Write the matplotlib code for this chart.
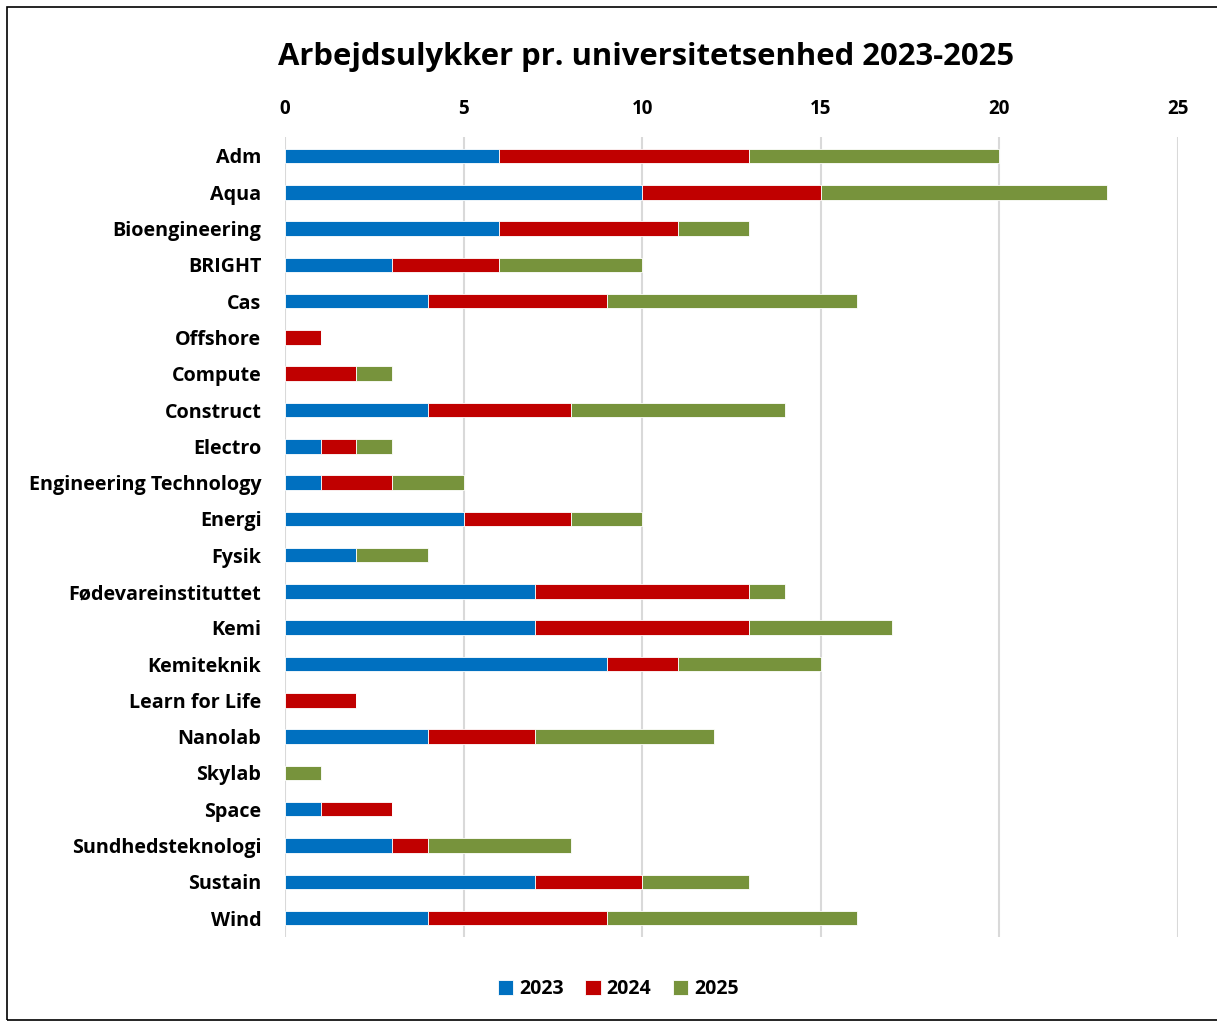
import matplotlib.pyplot as plt
import numpy as np
from matplotlib.patches import Rectangle

categories = ["Adm", "Aqua", "Bioengineering", "BRIGHT", "Cas", "Offshore", "Compute",
              "Construct", "Electro", "Engineering Technology", "Energi", "Fysik",
              "Fødevareinstituttet", "Kemi", "Kemiteknik", "Learn for Life", "Nanolab",
              "Skylab", "Space", "Sundhedsteknologi", "Sustain", "Wind"]
y2023 = [6, 10, 6, 3, 4, 0, 0, 4, 1, 1, 5, 2, 7, 7, 9, 0, 4, 0, 1, 3, 7, 4]
y2024 = [7, 5, 5, 3, 5, 1, 2, 4, 1, 2, 3, 0, 6, 6, 2, 2, 3, 0, 2, 1, 3, 5]
y2025 = [7, 8, 2, 4, 7, 0, 1, 6, 1, 2, 2, 2, 1, 4, 4, 0, 5, 1, 0, 4, 3, 7]
series = ["2023", "2024", "2025"]
colors = ["#0070C0", "#C00000", "#77933C"]
xticks = [0, 5, 10, 15, 20, 25]

plt.rcParams['font.family'] = ['Open Sans', 'DejaVu Sans']

fig = plt.figure(figsize=(12.17, 10.23), dpi=100)
ax = fig.add_axes([0.2342, 0.0841, 0.7338, 0.7819])

pos = np.arange(len(categories))
left = np.zeros(len(categories))
for vals, name, col in zip([y2023, y2024, y2025], series, colors):
    vals = np.array(vals, dtype=float)
    ax.barh(pos, vals, left=left, height=0.4, color=col, label=name,
            edgecolor="white", linewidth=0.6, zorder=3)
    left += vals

ax.set_ylim(len(categories) - 0.48, -0.52)
ax.set_xlim(0, 25)
ax.set_yticks(pos)
ax.set_yticklabels(categories, fontsize=14.2, fontweight="bold")
ax.set_xticks(xticks)
ax.set_xticklabels([str(t) for t in xticks], fontsize=13.5, fontweight="bold")
ax.xaxis.tick_top()
ax.tick_params(axis="both", length=0)
ax.tick_params(axis="y", pad=17)
ax.tick_params(axis="x", pad=13)
ax.grid(axis="x", color="#D9D9D9", linewidth=1.5, zorder=0)
for s in ax.spines.values():
    s.set_visible(False)

fig.text(0.531, 0.944, "Arbejdsulykker pr. universitetsenhed 2023-2025",
         ha="center", va="center", fontsize=22.3, fontweight="bold")

leg = fig.legend(loc="center", bbox_to_anchor=(0.508, 0.033), ncol=3, frameon=False,
                 handlelength=0.8, handleheight=0.8, handletextpad=0.3, columnspacing=1.1,
                 prop={"size": 14, "weight": "bold"})

fig.patches.append(Rectangle((0.006, 0.003), 1.2, 0.99, transform=fig.transFigure,
                             fill=False, edgecolor="black", linewidth=1.2))

fig.savefig("out.png", dpi=100)
